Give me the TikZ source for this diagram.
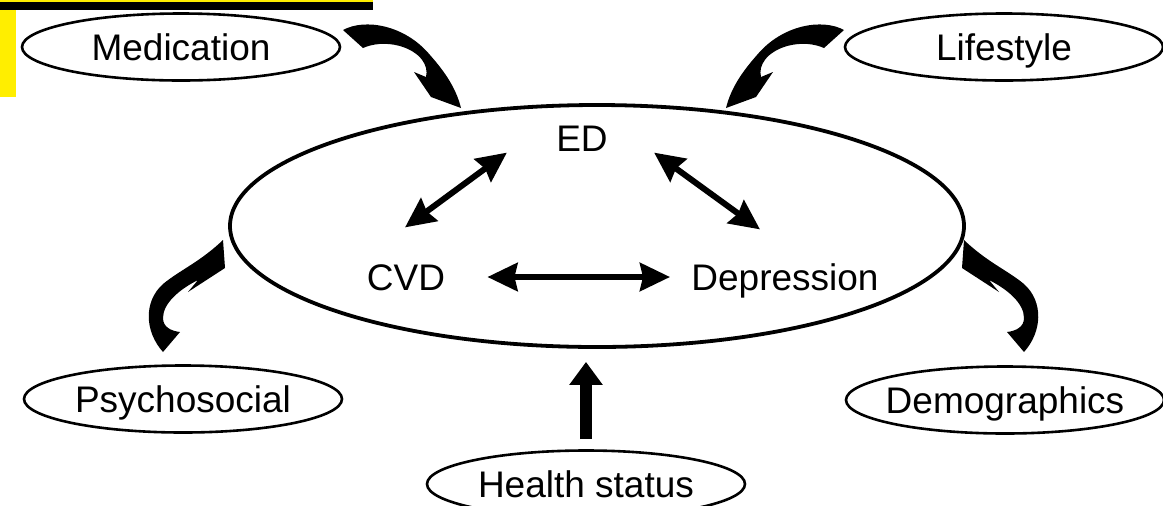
\documentclass[tikz,border=0pt]{standalone}
\usepackage{fontspec}
\setmainfont{Liberation Sans}
\usetikzlibrary{arrows.meta, shapes.geometric}
\definecolor{barYellow}{RGB}{255,238,0}

\tikzset{
  factor/.style={draw, ellipse, line width=1.3pt, minimum width=159pt,
    minimum height=33.5pt, inner xsep=-25pt, inner ysep=0pt,
    text height=13.2pt, text depth=0pt, font=\fontsize{18.5}{22}\selectfont},
  core/.style={draw, ellipse, line width=1.9pt, minimum width=367pt,
    minimum height=121pt},
  term/.style={inner sep=0pt, text height=13.2pt, text depth=0pt,
    font=\fontsize{18.5}{22}\selectfont},
  twoway/.style={line width=3pt,
    {Stealth[length=15pt,width=14pt,inset=1.5pt]}-{Stealth[length=15pt,width=14pt,inset=1.5pt]}},
  push/.style={line width=6pt, -{Triangle[length=11.5pt,width=16pt]}},
  swoosh/.style={fill=black}
}

\begin{document}
\begin{tikzpicture}[x=0.5pt, y=-0.5pt]
  \useasboundingbox (0,0) rectangle (1163,505);

  % Corner bar
  \fill[barYellow] (0,0) rectangle (373,10);
  \fill[black] (0,1.5) rectangle (373,9.5);
  \fill[barYellow] (0,9.5) rectangle (16,97);

  % Central ellipse and its terms
  \node[core] (core) at (597,226) {};
  \node[term] (ed) at (582,138) {ED};
  \node[term] (cvd) at (406,277) {CVD};
  \node[term] (dep) at (785,277) {Depression};

  % Outer factors
  \node[factor] (med) at (181,47) {Medication};
  \node[factor] (life) at (1004,47) {Lifestyle};
  \node[factor] (psy) at (183,399) {Psychosocial};
  \node[factor] (demo) at (1005,400) {Demographics};
  \node[factor] (health) at (586,484) {Health status};

  % Links between terms
  \draw[twoway] ([shift={(-1,-36)}]cvd.north) -- ([shift={(-49,1)}]ed.south west);
  \draw[twoway] ([shift={(46,1)}]ed.south east) -- ([shift={(-25,-34)}]dep.north);
  \draw[twoway, shorten <=21pt, shorten >=10.5pt] (cvd.east) -- (dep.west);

  % Health status arrow
  \draw[push, shorten <=5pt, shorten >=6.5pt] (health.north) -- (health.north |- core.south);

  % Curved arrows, left side
  \fill[swoosh] (343,30) .. controls (365,18) and (405,25) .. (430,55)
    .. controls (445,72) and (456,88) .. (461,108) -- (431,97) -- (414,72)
    -- (426,77) .. controls (429,65) and (420,52) .. (400,46)
    .. controls (385,42) and (372,44) .. (363,48) -- cycle;
  \fill[swoosh] (163,352) .. controls (145,332) and (143,302) .. (163,284)
    .. controls (180,270) and (200,262) .. (223,240) -- (225,268) -- (188,292)
    -- (198,280) .. controls (180,289) and (163,303) .. (163,318)
    .. controls (163,327) and (171,331) .. (180,332) -- cycle;

  % Curved arrows, right side (mirrored)
  \begin{scope}[shift={(1187,0)}, xscale=-1]
    \fill[swoosh] (343,30) .. controls (365,18) and (405,25) .. (430,55)
      .. controls (445,72) and (456,88) .. (461,108) -- (431,97) -- (414,72)
      -- (426,77) .. controls (429,65) and (420,52) .. (400,46)
      .. controls (385,42) and (372,44) .. (363,48) -- cycle;
    \fill[swoosh] (163,352) .. controls (145,332) and (143,302) .. (163,284)
      .. controls (180,270) and (200,262) .. (223,240) -- (225,268) -- (188,292)
      -- (198,280) .. controls (180,289) and (163,303) .. (163,318)
      .. controls (163,327) and (171,331) .. (180,332) -- cycle;
  \end{scope}
\end{tikzpicture}
\end{document}
